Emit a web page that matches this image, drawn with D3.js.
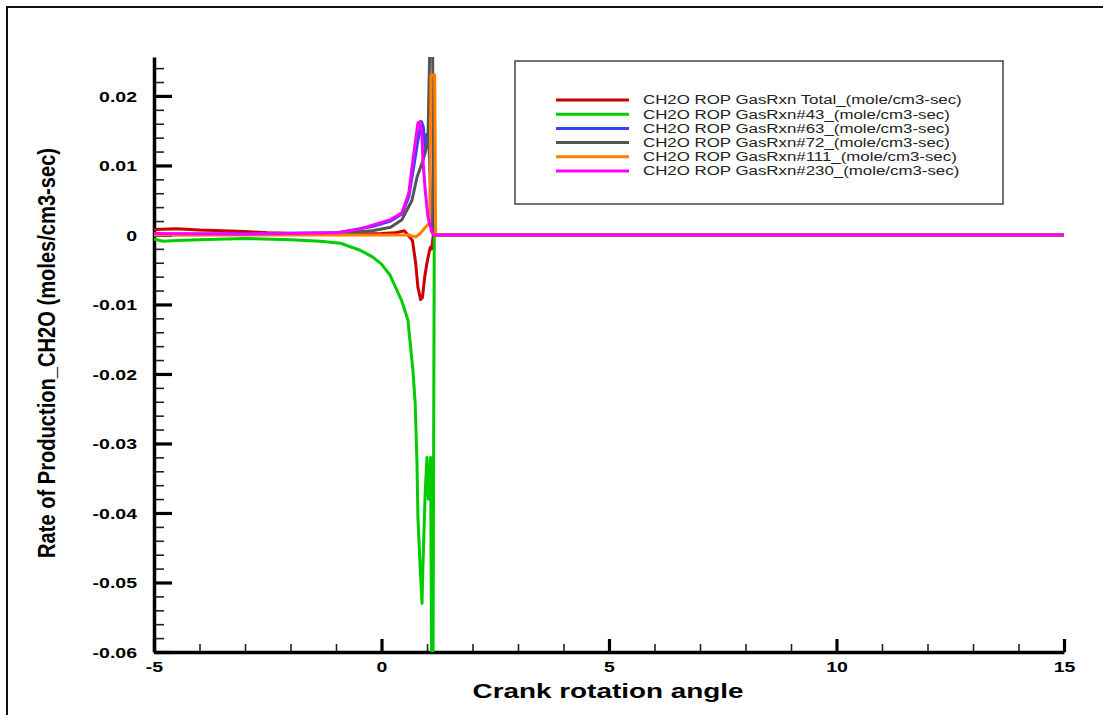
<!DOCTYPE html>
<html><head><meta charset="utf-8">
<script src="https://cdn.jsdelivr.net/npm/d3@7"></script>
<style>
html,body{margin:0;padding:0;background:#fff;}
svg{display:block;font-family:"Liberation Sans",Arial,sans-serif;}
</style></head>
<body><svg id="c" width="1103" height="715"></svg>
<script>
// ---- data ----
const seriesNames = [
  "CH2O ROP GasRxn Total_(mole/cm3-sec)",
  "CH2O ROP GasRxn#43_(mole/cm3-sec)",
  "CH2O ROP GasRxn#63_(mole/cm3-sec)",
  "CH2O ROP GasRxn#72_(mole/cm3-sec)",
  "CH2O ROP GasRxn#111_(mole/cm3-sec)",
  "CH2O ROP GasRxn#230_(mole/cm3-sec)"
];
const seriesColors = ["#cc0000","#00cc00","#3344ff","#555555","#ff8000","#ff00ff"];

const totalX = [-5,-4.5,-4,-3,-2.5,-2,-1,0,0.3,0.5,0.62,0.68,0.75,0.8,0.86,0.9,0.95,1.0,1.07,1.1,1.14,15];
const totalY = [0.0008,0.0009,0.0007,0.0005,0.0003,0.0002,0.0001,0.0002,0.0003,0.0006,-0.0003,-0.0008,-0.004,-0.0075,-0.0093,-0.009,-0.006,-0.004,-0.0018,-0.002,0,0];

const r43X = [-5,-4.8,-4.5,-4,-3,-2,-1.35,-0.9,-0.47,-0.19,0,0.19,0.44,0.58,0.63,0.69,0.74,0.78,0.8,0.85,0.89,0.91,0.96,1.0,1.03,1.08,1.12,1.16,15];
const r43Y = [-0.0006,-0.0009,-0.0008,-0.0007,-0.0005,-0.0007,-0.0009,-0.0012,-0.0022,-0.0032,-0.0042,-0.0058,-0.0094,-0.0122,-0.0155,-0.0194,-0.0242,-0.0328,-0.0406,-0.0478,-0.053,-0.0478,-0.037,-0.032,-0.038,-0.032,-0.09,0,0];

const r63X = [-5,-1,-0.2,0.2,0.45,0.6,0.7,0.78,0.84,0.88,0.92,0.96,1.0,1.04,1.08,1.12,1.15,15];
const r63Y = [0.0001,0.0003,0.0012,0.002,0.003,0.0055,0.0095,0.0128,0.015,0.0163,0.0155,0.012,0.0145,0.014,0.006,0.0005,0,0];

const r72X = [-5,-1,-0.2,0.2,0.45,0.67,0.78,0.9,1.02,1.07,1.12,1.15,15];
const r72Y = [0,0.0002,0.0006,0.0011,0.0022,0.005,0.0083,0.0105,0.0132,0.03,0.03,0,0];

const r111X = [-5,0,0.6,0.75,0.85,0.95,1.06,1.09,1.17,1.19,15];
const r111Y = [0,0,0,-0.0003,0.0002,0.001,0.0018,0.023,0.023,0,0];

const r230X = [-5,-3,-1,-0.5,-0.2,0.2,0.45,0.6,0.69,0.76,0.8,0.85,0.89,0.91,0.96,1.02,1.11,1.15,15];
const r230Y = [0.0002,0.0001,0.0003,0.0008,0.0014,0.0022,0.0032,0.006,0.0108,0.0141,0.0161,0.0163,0.0141,0.0108,0.0065,0.0026,0.0003,0,0];

const xMajor = [-5,0,5,10,15];
const yMajor = [0.02,0.01,0,-0.01,-0.02,-0.03,-0.04,-0.05,-0.06];
const yLabels = ["0.02","0.01","0","-0.01","-0.02","-0.03","-0.04","-0.05","-0.06"];

const seriesX = [totalX,r43X,r63X,r72X,r111X,r230X];
const seriesY = [totalY,r43Y,r63Y,r72Y,r111Y,r230Y];

// ---- drawing ----
const svg = d3.select("#c");
const SX = 1.3; // horizontal glyph stretch seen in the reference

svg.append("rect").attr("x",7).attr("y",7).attr("width",1110).attr("height",720)
  .attr("fill","none").attr("stroke","#111").attr("stroke-width",2);

const x = d3.scaleLinear().domain([-5,15]).range([154,1064]);
const y = d3.scaleLinear().domain([-0.06,0.0256]).range([652,57]);

// clip
svg.append("clipPath").attr("id","clip").append("rect")
  .attr("x",x(-5)).attr("y",y(0.0256)).attr("width",x(15)-x(-5)).attr("height",y(-0.06)-y(0.0256));

// minor ticks x
const xMinor = d3.range(-5,15.001,1).filter(v=>!xMajor.includes(v));
const gxm = svg.append("g").attr("transform",`translate(0,${y(-0.06)})`)
  .call(d3.axisBottom(x).tickValues(xMinor).tickSize(-8).tickSizeOuter(0).tickFormat(""));
gxm.select(".domain").remove();
gxm.selectAll("line").attr("stroke","#222").attr("stroke-width",1.6);

const yMinorVals = d3.range(0,43).map(k=>+(-0.06+k*0.002).toFixed(4)).filter(v=>!yMajor.some(m=>Math.abs(m-v)<1e-6));
const gym = svg.append("g").attr("transform",`translate(${x(-5)},0)`)
  .call(d3.axisLeft(y).tickValues(yMinorVals).tickSize(-10).tickSizeOuter(0).tickFormat(""));
gym.select(".domain").remove();
gym.selectAll("line").attr("stroke","#222").attr("stroke-width",1.6);

// major x axis
const gx = svg.append("g").attr("transform",`translate(0,${y(-0.06)})`)
  .call(d3.axisBottom(x).tickValues(xMajor).tickSize(-13).tickSizeOuter(0).tickPadding(9).tickFormat(d=>String(d)));
gx.select(".domain").attr("stroke","#000").attr("stroke-width",3.5);
gx.selectAll(".tick line").attr("stroke","#000").attr("stroke-width",3.2);
gx.selectAll(".tick text").attr("fill","#000").attr("font-size",15).attr("font-weight","bold")
  .attr("font-family","'Liberation Sans',Arial,sans-serif")
  .attr("dy","0.71em").attr("y",9).attr("transform",`scale(${SX},1)`);

// major y axis
const gy = svg.append("g").attr("transform",`translate(${x(-5)},0)`)
  .call(d3.axisLeft(y).tickValues(yMajor).tickSize(-18).tickSizeOuter(0).tickPadding(13)
    .tickFormat((d,i)=>yLabels[i]));
gy.select(".domain").attr("stroke","#000").attr("stroke-width",3.5);
gy.selectAll(".tick line").attr("stroke","#000").attr("stroke-width",3.2);
gy.selectAll(".tick text").attr("fill","#000").attr("font-size",15).attr("font-weight","bold")
  .attr("font-family","'Liberation Sans',Arial,sans-serif")
  .attr("x",-17/SX).attr("dy","0.36em").attr("transform",`scale(${SX},1)`);

// series lines
const line = d3.line().x(d=>x(d[0])).y(d=>y(d[1]));
const plot = svg.append("g").attr("clip-path","url(#clip)");
seriesX.forEach((xs,i)=>{
  const pts = xs.map((v,j)=>[v,seriesY[i][j]]);
  plot.append("path").datum(pts).attr("d",line).attr("fill","none")
    .attr("stroke",seriesColors[i]).attr("stroke-width",3).attr("stroke-linejoin","round");
});

// axis titles
const xt = svg.append("text").attr("font-size",20).attr("font-weight","bold").attr("fill","#000")
  .attr("x",608).attr("y",698)
  .attr("text-anchor","middle").text("Crank rotation angle")
  .attr("textLength",271).attr("lengthAdjust","spacingAndGlyphs");

const yt = svg.append("text").attr("font-size",18).attr("font-weight","bold").attr("fill","#000")
  .attr("text-anchor","middle").text("Rate of Production_CH2O (moles/cm3-sec)")
  .attr("transform",`translate(55,353) scale(${SX},1) rotate(-90)`)
  .attr("textLength",410).attr("lengthAdjust","spacingAndGlyphs");

// legend
const lg = svg.append("g");
lg.append("rect").attr("x",515).attr("y",61).attr("width",488).attr("height",143)
  .attr("fill","#fff").attr("stroke","#444").attr("stroke-width",1.5);
const rows = seriesNames.map((n,i)=>({n, c:seriesColors[i], yy:100+i*14.2}));
lg.selectAll("line.l").data(rows).join("line").attr("class","l")
  .attr("x1",556).attr("x2",629).attr("y1",d=>d.yy).attr("y2",d=>d.yy)
  .attr("stroke",d=>d.c).attr("stroke-width",3);
const lt = lg.selectAll("text.t").data(rows).join("text").attr("class","t")
  .attr("font-size",12).attr("fill","#222").text(d=>d.n);
const w0 = lt.node().getComputedTextLength();
const ls = 319 / w0;
lt.attr("transform",d=>`translate(643,${d.yy+4.3}) scale(${ls},1)`);
</script></body></html>
